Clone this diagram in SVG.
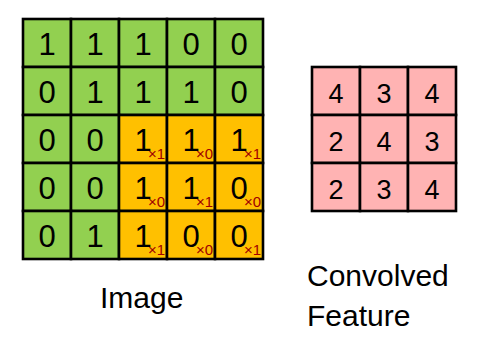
<svg xmlns="http://www.w3.org/2000/svg" width="480" height="364" viewBox="0 0 480 364">
<style>
.g{fill:#92D050;stroke:#000;stroke-width:2.6}
.o{fill:#FFC000;stroke:#000;stroke-width:2.6}
.p{fill:#FFB3B3;stroke:#000;stroke-width:2.6}
.d{font-family:"Liberation Sans",Arial,sans-serif;font-size:31px;fill:#000;text-anchor:middle}
.s{font-family:"Liberation Sans",Arial,sans-serif;font-size:15px;fill:#A00000;text-anchor:end}
.c{font-family:"Liberation Sans",Arial,sans-serif;font-size:27px;fill:#000;text-anchor:middle}
.l{font-family:"Liberation Sans",Arial,sans-serif;font-size:30px;fill:#000}
</style>
<rect width="480" height="364" fill="#fff"/>
<g id="image">
<g id="i00"><rect class="g" x="23" y="19" width="48" height="48"/><text class="d" x="47" y="54.5">1</text></g>
<g id="i01"><rect class="g" x="71" y="19" width="48" height="48"/><text class="d" x="95" y="54.5">1</text></g>
<g id="i02"><rect class="g" x="119" y="19" width="48" height="48"/><text class="d" x="143" y="54.5">1</text></g>
<g id="i03"><rect class="g" x="167" y="19" width="48" height="48"/><text class="d" x="191" y="54.5">0</text></g>
<g id="i04"><rect class="g" x="215" y="19" width="48" height="48"/><text class="d" x="239" y="54.5">0</text></g>
<g id="i10"><rect class="g" x="23" y="67" width="48" height="48"/><text class="d" x="47" y="102.5">0</text></g>
<g id="i11"><rect class="g" x="71" y="67" width="48" height="48"/><text class="d" x="95" y="102.5">1</text></g>
<g id="i12"><rect class="g" x="119" y="67" width="48" height="48"/><text class="d" x="143" y="102.5">1</text></g>
<g id="i13"><rect class="g" x="167" y="67" width="48" height="48"/><text class="d" x="191" y="102.5">1</text></g>
<g id="i14"><rect class="g" x="215" y="67" width="48" height="48"/><text class="d" x="239" y="102.5">0</text></g>
<g id="i20"><rect class="g" x="23" y="115" width="48" height="48"/><text class="d" x="47" y="150.5">0</text></g>
<g id="i21"><rect class="g" x="71" y="115" width="48" height="48"/><text class="d" x="95" y="150.5">0</text></g>
<g id="i22"><rect class="o" x="119" y="115" width="48" height="48"/><text class="d" x="143" y="150.5">1</text><text class="s" x="165" y="159">×1</text></g>
<g id="i23"><rect class="o" x="167" y="115" width="48" height="48"/><text class="d" x="191" y="150.5">1</text><text class="s" x="213" y="159">×0</text></g>
<g id="i24"><rect class="o" x="215" y="115" width="48" height="48"/><text class="d" x="239" y="150.5">1</text><text class="s" x="261" y="159">×1</text></g>
<g id="i30"><rect class="g" x="23" y="163" width="48" height="48"/><text class="d" x="47" y="198.5">0</text></g>
<g id="i31"><rect class="g" x="71" y="163" width="48" height="48"/><text class="d" x="95" y="198.5">0</text></g>
<g id="i32"><rect class="o" x="119" y="163" width="48" height="48"/><text class="d" x="143" y="198.5">1</text><text class="s" x="165" y="207">×0</text></g>
<g id="i33"><rect class="o" x="167" y="163" width="48" height="48"/><text class="d" x="191" y="198.5">1</text><text class="s" x="213" y="207">×1</text></g>
<g id="i34"><rect class="o" x="215" y="163" width="48" height="48"/><text class="d" x="239" y="198.5">0</text><text class="s" x="261" y="207">×0</text></g>
<g id="i40"><rect class="g" x="23" y="211" width="48" height="48"/><text class="d" x="47" y="246.5">0</text></g>
<g id="i41"><rect class="g" x="71" y="211" width="48" height="48"/><text class="d" x="95" y="246.5">1</text></g>
<g id="i42"><rect class="o" x="119" y="211" width="48" height="48"/><text class="d" x="143" y="246.5">1</text><text class="s" x="165" y="255">×1</text></g>
<g id="i43"><rect class="o" x="167" y="211" width="48" height="48"/><text class="d" x="191" y="246.5">0</text><text class="s" x="213" y="255">×0</text></g>
<g id="i44"><rect class="o" x="215" y="211" width="48" height="48"/><text class="d" x="239" y="246.5">0</text><text class="s" x="261" y="255">×1</text></g>
</g>
<g id="feature">
<g id="f00"><rect class="p" x="312" y="67" width="48" height="48"/><text class="c" x="336" y="102.5">4</text></g>
<g id="f01"><rect class="p" x="360" y="67" width="48" height="48"/><text class="c" x="384" y="102.5">3</text></g>
<g id="f02"><rect class="p" x="408" y="67" width="48" height="48"/><text class="c" x="432" y="102.5">4</text></g>
<g id="f10"><rect class="p" x="312" y="115" width="48" height="48"/><text class="c" x="336" y="150.5">2</text></g>
<g id="f11"><rect class="p" x="360" y="115" width="48" height="48"/><text class="c" x="384" y="150.5">4</text></g>
<g id="f12"><rect class="p" x="408" y="115" width="48" height="48"/><text class="c" x="432" y="150.5">3</text></g>
<g id="f20"><rect class="p" x="312" y="163" width="48" height="48"/><text class="c" x="336" y="198.5">2</text></g>
<g id="f21"><rect class="p" x="360" y="163" width="48" height="48"/><text class="c" x="384" y="198.5">3</text></g>
<g id="f22"><rect class="p" x="408" y="163" width="48" height="48"/><text class="c" x="432" y="198.5">4</text></g>
</g>
<g id="connectors"/>
<g id="labels">
<text id="image-label" class="l" x="100" y="308">Image</text>
<text id="feature-label" class="l" x="307" y="286">Convolved</text>
<text id="feature-label2" class="l" x="307" y="326">Feature</text>
</g>
</svg>
